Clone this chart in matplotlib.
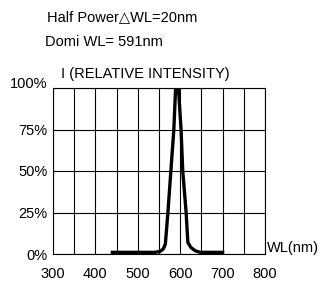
import matplotlib
matplotlib.use("Agg")
import matplotlib.pyplot as plt
from matplotlib.transforms import ScaledTranslation

# ── Data ───────────────────────────────────────────────────────────────
wavelength = [440, 540, 552, 560, 565, 571, 578, 585, 589, 596, 602, 606,
              614, 618, 625, 635, 647, 700]
intensity = [1, 1, 1.5, 3, 6, 25, 50, 75, 99, 99, 75, 50,
             25, 7, 4, 2, 1, 1]

x_ticks = [300, 400, 500, 600, 700, 800]
y_ticks = [0, 25, 50, 75, 100]
y_tick_labels = ["0%", "25%", "50%", "75%", "100%"]

plt.rcParams["font.family"] = ["Liberation Sans", "DejaVu Sans"]

W, H = 326, 282
fig = plt.figure(figsize=(W / 100, H / 100), dpi=100)
ax = fig.add_axes([53 / W, (H - 254) / H, 212 / W, 166 / H])

ax.plot(wavelength, intensity, color="black", linewidth=2.4,
        solid_joinstyle="round", zorder=5, clip_on=False)

ax.set_xlim(300, 800)
ax.set_ylim(0, 100)
ax.set_xticks(range(300, 801, 50))
ax.set_xticklabels([str(v) if v in x_ticks else "" for v in range(300, 801, 50)])
ax.set_yticks(y_ticks)
ax.set_yticklabels(y_tick_labels)
ax.tick_params(axis="both", length=0, labelsize=10.5)
ax.tick_params(axis="x", pad=9)
ax.tick_params(axis="y", pad=4)
ax.grid(True, color="black", linewidth=0.8)
for s in ax.spines.values():
    s.set_linewidth(0.8)

# top label sits a little above its gridline in the reference
top = ax.get_yticklabels()[-1]
top.set_transform(top.get_transform() + ScaledTranslation(0, 4 / 72, fig.dpi_scale_trans))

def ftext(x, y, s, **kw):
    fig.text(x / W, 1 - y / H, s, va="center", fontsize=10.5, **kw)

ftext(47, 17, "Half Power\u25b3WL=20nm")
ftext(45, 42, "Domi WL= 591nm")
ftext(61, 74, "I (RELATIVE INTENSITY)")
ftext(267, 248, "WL(nm)")

fig.savefig("out.png", dpi=100)
